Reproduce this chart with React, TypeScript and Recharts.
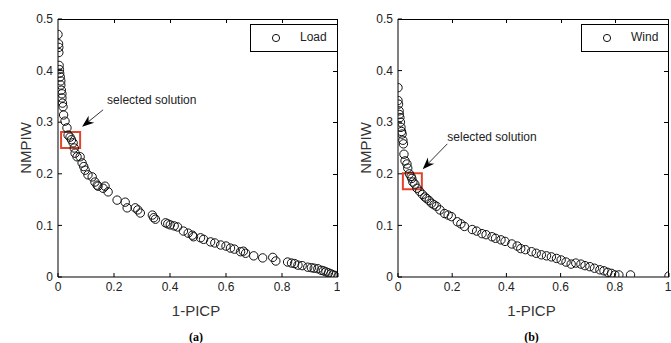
import React from 'react';
import { ScatterChart, Scatter, XAxis, YAxis, ReferenceArea, ReferenceLine } from 'recharts';

const X_TICKS = [0, 0.2, 0.4, 0.6, 0.8, 1];
const Y_TICKS = [0, 0.1, 0.2, 0.3, 0.4, 0.5];

// (a) Load - Pareto front
const loadPicp = [
  0.0, 0.002, 0.003, 0.003, 0.004, 0.005, 0.006, 0.008, 0.01, 0.01, 0.012, 0.014, 0.014, 0.016, 0.018,
  0.02, 0.025, 0.032, 0.036, 0.043, 0.048, 0.054, 0.058, 0.061, 0.068, 0.079, 0.086, 0.092, 0.097,
  0.107, 0.122, 0.132, 0.14, 0.143, 0.161, 0.168, 0.179, 0.211, 0.24, 0.247, 0.276, 0.285, 0.294,
  0.337, 0.342, 0.348, 0.384, 0.392, 0.401, 0.415, 0.427, 0.448, 0.465, 0.48, 0.484, 0.509, 0.52,
  0.545, 0.56, 0.581, 0.6, 0.616, 0.63, 0.652, 0.662, 0.67, 0.699, 0.731, 0.767, 0.778, 0.82, 0.834,
  0.845, 0.857, 0.872, 0.892, 0.905, 0.915, 0.928, 0.94, 0.948, 0.957, 0.966, 0.975, 0.982, 0.99, 1.0,
];
const loadNmpiw = [
  0.47, 0.452, 0.445, 0.435, 0.41, 0.402, 0.395, 0.388, 0.38, 0.372, 0.362, 0.355, 0.347, 0.337, 0.33,
  0.314, 0.302, 0.289, 0.275, 0.271, 0.266, 0.26, 0.25, 0.24, 0.233, 0.233, 0.221, 0.214, 0.207,
  0.198, 0.194, 0.184, 0.178, 0.176, 0.172, 0.176, 0.165, 0.149, 0.145, 0.134, 0.134, 0.13, 0.124,
  0.12, 0.115, 0.112, 0.105, 0.103, 0.101, 0.099, 0.097, 0.089, 0.085, 0.081, 0.078, 0.076, 0.073,
  0.068, 0.066, 0.062, 0.06, 0.056, 0.054, 0.049, 0.05, 0.046, 0.041, 0.037, 0.038, 0.031, 0.029, 0.027,
  0.026, 0.023, 0.022, 0.019, 0.018, 0.017, 0.016, 0.013, 0.012, 0.01, 0.008, 0.006, 0.004, 0.003, 0.001,
];

// (b) Wind - Pareto front
const windPicp = [
  0.0, 0.0, 0.002, 0.004, 0.005, 0.007, 0.009, 0.011, 0.013, 0.015, 0.018, 0.02, 0.022, 0.026, 0.033,
  0.036, 0.042, 0.048, 0.051, 0.055, 0.062, 0.07, 0.08, 0.09, 0.099, 0.106, 0.115, 0.124, 0.133, 0.142,
  0.155, 0.172, 0.185, 0.197, 0.219, 0.232, 0.245, 0.274, 0.29, 0.31, 0.325, 0.347, 0.36, 0.38, 0.395,
  0.42, 0.44, 0.453, 0.47, 0.493, 0.51, 0.529, 0.548, 0.566, 0.585, 0.602, 0.62, 0.639, 0.656, 0.675,
  0.69, 0.708, 0.725, 0.745, 0.76, 0.774, 0.788, 0.8, 0.815, 0.858, 1.0,
];
const windNmpiw = [
  0.367, 0.342, 0.335, 0.322, 0.315, 0.309, 0.3, 0.29, 0.282, 0.277, 0.265, 0.258, 0.238, 0.225, 0.219,
  0.211, 0.2, 0.195, 0.191, 0.184, 0.18, 0.172, 0.166, 0.16, 0.155, 0.152, 0.148, 0.143, 0.14, 0.137,
  0.13, 0.123, 0.12, 0.117, 0.107, 0.103, 0.098, 0.092, 0.089, 0.084, 0.082, 0.078, 0.075, 0.072, 0.069,
  0.064, 0.06, 0.055, 0.053, 0.049, 0.046, 0.043, 0.041, 0.039, 0.036, 0.033, 0.029, 0.025, 0.027, 0.025,
  0.022, 0.02, 0.017, 0.014, 0.012, 0.009, 0.007, 0.004, 0.004, 0.004, 0.002,
];

const loadData = loadPicp.map((x, i) => ({ x, y: loadNmpiw[i] }));
const windData = windPicp.map((x, i) => ({ x, y: windNmpiw[i] }));

const FONT = '"Liberation Sans", Arial, sans-serif';
const RED = '#e2452a';
const HEIGHT = 343;
const MARGIN = { top: 19, right: 2, bottom: 36, left: 18 };
const Y_AXIS_W = 40;
const X_AXIS_H = 30;

const openCircle = (props: any) => (
  <circle cx={props.cx} cy={props.cy} r={4.2} fill="none" stroke="#111" strokeWidth={1} />
);

function makeArrow(textDx: number, textDy: number) {
  return (props: any) => {
    const { x1, y1, x2, y2 } = props;
    const ang = Math.atan2(y2 - y1, x2 - x1);
    const len = 12;
    const half = 4.5;
    const bx = x2 - len * Math.cos(ang);
    const by = y2 - len * Math.sin(ang);
    const nx = -Math.sin(ang);
    const ny = Math.cos(ang);
    const notchX = x2 - len * 0.7 * Math.cos(ang);
    const notchY = y2 - len * 0.7 * Math.sin(ang);
    return (
      <g>
        <line x1={x1} y1={y1} x2={notchX} y2={notchY} stroke="#333" strokeWidth={1} />
        <polygon
          points={`${x2},${y2} ${bx + nx * half},${by + ny * half} ${notchX},${notchY} ${bx - nx * half},${by - ny * half}`}
          fill="#000"
        />
        <text
          x={x1 + textDx}
          y={y1 + textDy}
          fontFamily={FONT}
          fontSize={12}
          fill="#222"
          dominantBaseline="central"
        >
          selected solution
        </text>
      </g>
    );
  };
}

interface PanelProps {
  data: { x: number; y: number }[];
  name: string;
  caption: string;
  width: number;
  box: [number, number, number, number];
  arrow: [number, number, number, number];
  textOffset: [number, number];
  legendLeft: number;
}

function Panel({ data, name, caption, width, box, arrow, textOffset, legendLeft }: PanelProps) {
  const tickStyle = { fontSize: 12, fill: '#222', fontFamily: FONT };
  const xMax = X_TICKS[X_TICKS.length - 1];
  const yMax = Y_TICKS[Y_TICKS.length - 1];

  // plot rectangle, for the top/right sides of the box
  const plotL = MARGIN.left + Y_AXIS_W;
  const plotR = width - MARGIN.right;
  const plotT = MARGIN.top;
  const plotB = HEIGHT - MARGIN.bottom - X_AXIS_H;
  const plotW = plotR - plotL;
  const plotH = plotB - plotT;

  return (
    <div style={{ position: 'relative', width, height: HEIGHT }}>
      <ScatterChart width={width} height={HEIGHT} margin={MARGIN}>
        <XAxis
          type="number"
          dataKey="x"
          domain={[0, xMax]}
          ticks={X_TICKS}
          allowDataOverflow
          height={X_AXIS_H}
          tickSize={-4}
          tickMargin={9}
          tick={tickStyle}
          stroke="#000"
          label={(p: any) => {
            const vb = p.viewBox;
            const cx = vb.x + vb.width / 2 - 2;
            return (
              <g>
                <text x={cx} y={vb.y + 33} textAnchor="middle" dominantBaseline="central" fontFamily={FONT} fontSize={15} fill="#333">
                  1-PICP
                </text>
                <text x={cx} y={vb.y + 60} textAnchor="middle" dominantBaseline="central" fontFamily='"Liberation Serif", "Times New Roman", serif' fontWeight="bold" fontSize={12} fill="#000">
                  {caption}
                </text>
              </g>
            );
          }}
        />
        <YAxis
          type="number"
          dataKey="y"
          domain={[0, yMax]}
          ticks={Y_TICKS}
          allowDataOverflow
          width={Y_AXIS_W}
          tickSize={-4}
          tickMargin={9}
          tick={tickStyle}
          stroke="#000"
          label={(p: any) => {
            const vb = p.viewBox;
            const cx = vb.x + 7;
            const cy = vb.y + vb.height / 2;
            return (
              <text x={cx} y={cy} transform={`rotate(-90 ${cx} ${cy})`} textAnchor="middle" dominantBaseline="central" fontFamily={FONT} fontSize={15} fill="#333">
                NMPIW
              </text>
            );
          }}
        />
        <Scatter data={data} shape={openCircle} isAnimationActive={false} />
        <ReferenceArea x1={box[0]} x2={box[1]} y1={box[2]} y2={box[3]} fill="none" stroke={RED} strokeWidth={2} />
        <ReferenceLine
          segment={[
            { x: arrow[0], y: arrow[1] },
            { x: arrow[2], y: arrow[3] },
          ]}
          shape={makeArrow(textOffset[0], textOffset[1])}
        />
      </ScatterChart>
      {/* top and right sides of the axes box with inward ticks */}
      <div
        style={{
          position: 'absolute',
          left: plotL,
          top: plotT,
          width: plotW,
          height: plotH,
          borderTop: '1px solid #000',
          borderRight: '1px solid #000',
          boxSizing: 'border-box',
          pointerEvents: 'none',
        }}
      />
      {X_TICKS.slice(1, -1).map((t) => (
        <div
          key={`tt${t}`}
          style={{
            position: 'absolute',
            left: Math.round(plotL + (plotW * t) / xMax),
            top: plotT,
            width: 1,
            height: 4,
            background: '#000',
          }}
        />
      ))}
      {Y_TICKS.slice(1, -1).map((t) => (
        <div
          key={`rt${t}`}
          style={{
            position: 'absolute',
            left: plotR - 5,
            top: Math.round(plotB - (plotH * t) / yMax),
            width: 4,
            height: 1,
            background: '#000',
          }}
        />
      ))}
      <div
        style={{
          position: 'absolute',
          left: legendLeft,
          top: 24,
          width: 86,
          height: 26,
          border: '1px solid #000',
          background: '#fff',
          fontFamily: FONT,
          fontSize: 12,
          color: '#222',
        }}
      >
        <svg width={10} height={10} style={{ position: 'absolute', left: 20, top: 8 }}>
          <circle cx={5} cy={5} r={3.6} fill="none" stroke="#111" strokeWidth={1} />
        </svg>
        <span style={{ position: 'absolute', left: 49, top: 5, lineHeight: '14px' }}>{name}</span>
      </div>
    </div>
  );
}

export default function App() {
  return (
    <div style={{ position: 'absolute', left: 0, top: 0, width: 671, height: HEIGHT, background: '#fff', display: 'flex' }}>
      <Panel
        data={loadData}
        name="Load"
        caption="(a)"
        width={340}
        box={[0.011, 0.079, 0.25, 0.281]}
        arrow={[0.161, 0.324, 0.086, 0.291]}
        textOffset={[4, -10]}
        legendLeft={250}
      />
      <Panel
        data={windData}
        name="Wind"
        caption="(b)"
        width={331}
        box={[0.018, 0.088, 0.17, 0.201]}
        arrow={[0.182, 0.258, 0.091, 0.209]}
        textOffset={[0, -7]}
        legendLeft={241}
      />
    </div>
  );
}
